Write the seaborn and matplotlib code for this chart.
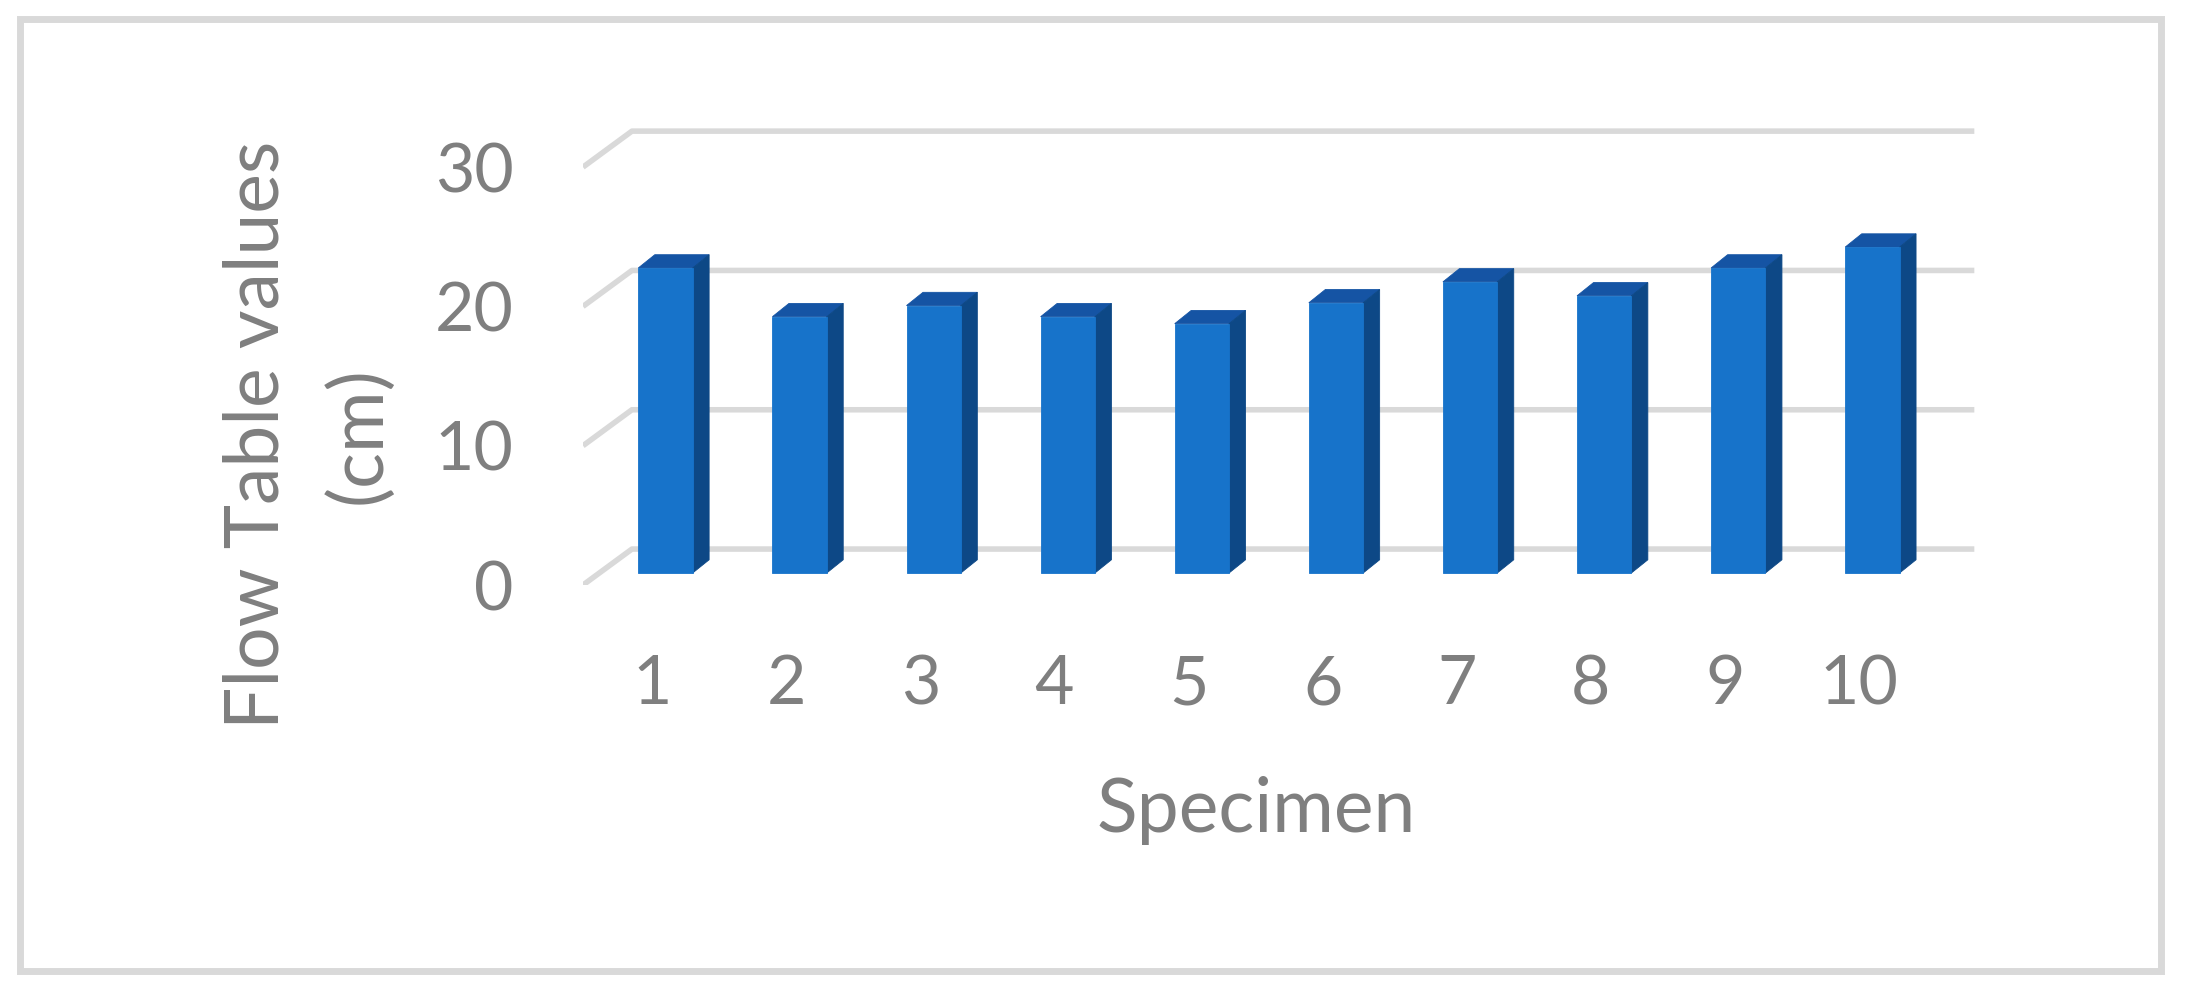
import seaborn as sns
import pandas as pd
import matplotlib.pyplot as plt
from matplotlib.patches import Polygon, Rectangle

specimens = ["1", "2", "3", "4", "5", "6", "7", "8", "9", "10"]
flow_cm = [21.9, 18.4, 19.2, 18.4, 17.9, 19.4, 20.9, 19.9, 21.9, 23.4]
y_ticks = [0, 10, 20, 30]

W, H = 2186, 997
front_col, side_col, top_col = "#1773ca", "#0d4886", "#1554a4"
grid_col = "#d9d9d9"
text_col = "#7f7f7f"

# fake 3d depth (data units)
bar_dx, bar_dy = 0.123, 0.95
floor_front, floor_back = -0.86, 1.72
wall_x0, wall_x1, wall_x2 = -0.615, -0.25, 9.76

sns.set_style("white")
plt.rcParams["font.family"] = ["Lato", "DejaVu Sans"]

fig = plt.figure(figsize=(W / 100, H / 100), dpi=100)


def fx(px):
    return px / W


def fy(py):
    return 1 - py / H


left, right, top, bottom = 583, 2000, 100, 585
ax = fig.add_axes([fx(left), fy(bottom), fx(right) - fx(left), fy(top) - fy(bottom)])
ax.patch.set_alpha(0)

df = pd.DataFrame({"Specimen": specimens, "Flow": flow_cm})
sns.barplot(data=df, x="Specimen", y="Flow", color=front_col, saturation=1,
            width=0.405, errorbar=None, ax=ax, zorder=3,
            edgecolor=front_col, linewidth=0.6)

# side and top faces
for p in list(ax.patches):
    x0, w, h = p.get_x(), p.get_width(), p.get_height()
    ax.add_patch(Polygon([(x0, h), (x0 + bar_dx, h + bar_dy), (x0 + w + bar_dx, h + bar_dy), (x0 + w, h)],
                         closed=True, facecolor=top_col, edgecolor=top_col, lw=0.6, zorder=2.9))
    ax.add_patch(Polygon([(x0 + w, 0), (x0 + w + bar_dx, bar_dy), (x0 + w + bar_dx, h + bar_dy), (x0 + w, h)],
                         closed=True, facecolor=side_col, edgecolor=side_col, lw=0.6, zorder=2.9))

# gridlines: diagonal on the floor side wall + back wall
for v in y_ticks:
    ax.plot([wall_x0, wall_x1, wall_x2], [v + floor_front, v + floor_back, v + floor_back],
            color=grid_col, lw=4, solid_capstyle="butt", zorder=1)

ax.set_xlim(wall_x0, (right - 665.5) / 134.1)
ax.set_ylim(floor_front, (573 - top) / 13.93)

ax.set_yticks([v + floor_front for v in y_ticks], [str(v) for v in y_ticks])
ax.set_xticks([i - 0.10 for i in range(len(specimens))], specimens)
ax.tick_params(length=0, labelsize=49, colors=text_col, pad=50)
sns.despine(ax=ax, left=True, bottom=True)

ax.set_xlabel("Specimen", fontsize=54, color=text_col, va="baseline")
ax.xaxis.set_label_coords(fx(1256), fy(832), transform=fig.transFigure)
ax.set_ylabel("Flow Table values\n(cm)", fontsize=54, color=text_col,
              linespacing=1.58, va="center", ha="center")
ax.yaxis.set_label_coords(fx(308), fy(435), transform=fig.transFigure)

fig.add_artist(Rectangle((fx(19.5), fy(970.5)), fx(2160.5) - fx(19.5), fy(19.5) - fy(970.5),
                         transform=fig.transFigure, fill=False, edgecolor=grid_col, linewidth=5))

fig.savefig("out.png", dpi=100)
